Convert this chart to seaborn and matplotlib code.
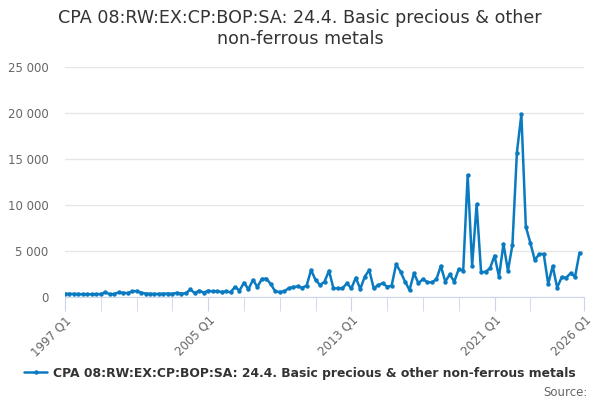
import matplotlib
matplotlib.use("Agg")
import matplotlib.pyplot as plt
import matplotlib.ticker as mticker
import numpy as np
import pandas as pd
import seaborn as sns

# quarterly values 1997 Q1 .. 2025 Q4
values = [
    350, 350, 330, 320, 300, 310, 300, 310, 320, 520,
    300, 330, 500, 450, 430, 600, 650, 480, 380, 350,
    330, 340, 360, 380, 350, 450, 380, 400, 820, 420,
    700, 480, 700, 600, 620, 550, 600, 520, 1100, 700,
    1550, 850, 1850, 1100, 1950, 2000, 1400, 600, 550, 620,
    950, 1080, 1150, 1010, 1240, 2930, 1850, 1300, 1660, 2860,
    940, 950, 940, 1480, 940, 2100, 870, 2210, 2930, 940,
    1300, 1490, 1120, 1230, 3550, 2750, 1670, 760, 2570, 1490,
    1960, 1600, 1600, 1920, 3370, 1670, 2460, 1670, 3040, 2860,
    13260, 3400, 10070, 2680, 2750, 3120, 4490, 2210, 5760, 2860,
    5650, 15690, 19860, 7640, 5900, 4020, 4670, 4670, 1410, 3370,
    1010, 2140, 2100, 2570, 2210, 4820,
]
tick_pos = [0, 32, 64, 96, 116]
tick_labels = ["1997 Q1", "2005 Q1", "2013 Q1", "2021 Q1", "2026 Q1"]
minor_pos = list(range(0, 105, 8)) + [116]
series_name = "CPA 08:RW:EX:CP:BOP:SA: 24.4. Basic precious & other non-ferrous metals"

df = pd.DataFrame({"q": np.arange(len(values)), "value": values})

sns.set_style("white")
fig = plt.figure(figsize=(6, 4), dpi=100)
ax = fig.add_axes([65 / 600, 1 - 297 / 400, 519 / 600, 230 / 400])

color = "#0a7bc1"
sns.lineplot(data=df, x="q", y="value", ax=ax, color=color, linewidth=1.8,
             marker="o", markersize=3.2, markeredgewidth=0, label=series_name)

ax.set_xlim(0, 116)
ax.set_ylim(0, 25000)
ax.yaxis.set_major_locator(mticker.MultipleLocator(5000))
ax.yaxis.set_major_formatter(mticker.FuncFormatter(lambda v, p: f"{int(v):,}".replace(",", " ")))
ax.grid(axis="y", color="#e6e6e6", linewidth=1)
ax.grid(axis="x", visible=False)
for s in ["top", "right", "left"]:
    ax.spines[s].set_visible(False)
ax.spines["bottom"].set_color("#ccd6eb")

ax.set_xticks(minor_pos, minor=True)
ax.set_xticks(tick_pos)
ax.set_xticklabels(tick_labels, rotation=45, ha="right", rotation_mode="anchor")
ax.tick_params(axis="x", which="both", length=10, color="#ccd6eb", labelsize=8.5,
               labelcolor="#666666", bottom=True, pad=2)
ax.tick_params(axis="y", length=0, labelsize=8.5, labelcolor="#666666", pad=12)
ax.set_xlabel("")
ax.set_ylabel("")

ax.legend_.remove()
handles, labels = ax.get_legend_handles_labels()
leg = fig.legend(handles, labels, loc="center", bbox_to_anchor=(0.5, 1 - 373 / 400),
                 frameon=False, handlelength=1.8, handletextpad=0.5,
                 prop={"size": 8.9, "weight": "bold"})
for t in leg.get_texts():
    t.set_color("#333333")

fig.suptitle("CPA 08:RW:EX:CP:BOP:SA: 24.4. Basic precious & other\nnon-ferrous metals",
             y=1 - 9 / 400, va="top", fontsize=12.6, color="#333333", linespacing=1.25)
fig.text(588 / 600, 1 - 392 / 400, "Source:", ha="right", va="center",
         fontsize=8.5, color="#666666")

fig.savefig("out.png", dpi=100)
